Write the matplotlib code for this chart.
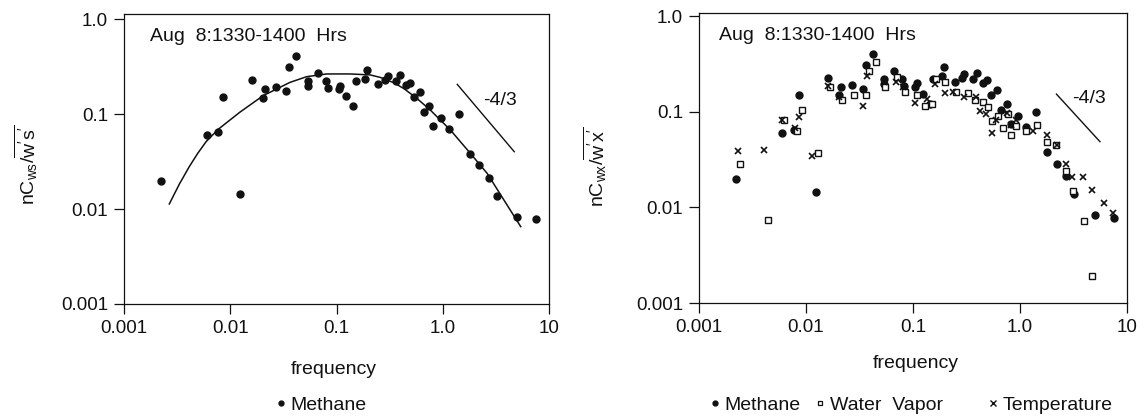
import matplotlib
matplotlib.use("Agg")
import matplotlib.pyplot as plt
from matplotlib.lines import Line2D

plt.rcParams['font.family'] = ['Liberation Sans', 'DejaVu Sans']
plt.rcParams['mathtext.fontset'] = 'custom'
plt.rcParams['mathtext.rm'] = 'Liberation Sans'
plt.rcParams['mathtext.it'] = 'Liberation Sans:italic'
plt.rcParams['mathtext.bf'] = 'Liberation Sans:bold'

# ---------------- data ----------------
methane_f = [0.00223, 0.00602, 0.0077, 0.00853, 0.0124, 0.0159, 0.0202, 0.0214, 0.0268,
             0.0338, 0.0361, 0.042, 0.0538, 0.0538, 0.0664, 0.0796, 0.0826, 0.105, 0.109,
             0.124, 0.144, 0.153, 0.186, 0.193, 0.245, 0.287, 0.302, 0.362, 0.395, 0.451,
             0.488, 0.540, 0.611, 0.671, 0.748, 0.817, 0.957, 1.15, 1.42, 1.79, 2.21, 2.70,
             3.21, 4.97, 7.51]
methane_c = [0.0197, 0.0601, 0.0652, 0.152, 0.0144, 0.226, 0.149, 0.183, 0.194,
             0.173, 0.313, 0.405, 0.224, 0.197, 0.268, 0.224, 0.186, 0.183, 0.199,
             0.155, 0.122, 0.222, 0.236, 0.293, 0.208, 0.228, 0.251, 0.224, 0.255, 0.202,
             0.214, 0.152, 0.171, 0.105, 0.122, 0.0741, 0.090, 0.0701, 0.1, 0.0379, 0.0288,
             0.0212, 0.0138, 0.0083, 0.00785]

# fitted curve, points
fit_f = [0.00267, 0.00332, 0.00413, 0.00494, 0.00593, 0.0077, 0.01225, 0.0204, 0.0364,
         0.0523, 0.0807, 0.134, 0.207, 0.258, 0.344, 0.428, 0.571, 0.764, 1.18, 1.82,
         2.62, 3.77, 5.42]
fit_c = [0.0113, 0.0183, 0.0281, 0.0385, 0.0512, 0.069, 0.104, 0.156, 0.215,
         0.247, 0.264, 0.264, 0.258, 0.243, 0.214, 0.186, 0.146, 0.110, 0.0679, 0.0385,
         0.0237, 0.0124, 0.00652]

water_f = [0.00241, 0.00441, 0.00627, 0.0083, 0.00918, 0.0129, 0.0168, 0.0216, 0.0280, 0.036,
           0.0387, 0.0447, 0.0553, 0.0706, 0.0834, 0.109, 0.129, 0.149, 0.165, 0.199, 0.251,
           0.327, 0.378, 0.452, 0.504, 0.552, 0.624, 0.695, 0.774, 0.832, 0.927, 1.15, 1.45,
           1.77, 2.17, 2.69, 3.10, 3.96, 4.74]
water_c = [0.0283, 0.0074, 0.0824, 0.0632, 0.105, 0.0369, 0.184, 0.132, 0.151, 0.151,
           0.271, 0.337, 0.184, 0.234, 0.163, 0.151, 0.116, 0.121, 0.220, 0.208, 0.163,
           0.157, 0.132, 0.128, 0.114, 0.0805, 0.0908, 0.0674, 0.0953, 0.0574, 0.0713, 0.0638,
           0.0725, 0.0489, 0.0451, 0.0243, 0.0149, 0.00728, 0.00192]

temp_f = [0.00229, 0.00401, 0.00596, 0.00789, 0.00854, 0.0115, 0.016, 0.0205, 0.034, 0.037,
          0.0535, 0.0687, 0.0805, 0.104, 0.135, 0.159, 0.199, 0.237, 0.298, 0.392, 0.427,
          0.485, 0.552, 0.603, 0.748, 0.832, 0.927, 1.33, 1.77, 2.20, 2.69, 3.03, 3.85,
          4.74, 6.14, 7.46]
temp_c = [0.0394, 0.040, 0.0824, 0.0674, 0.0879, 0.0349, 0.189, 0.143, 0.116, 0.238,
          0.208, 0.208, 0.184, 0.125, 0.136, 0.196, 0.157, 0.163, 0.143, 0.145, 0.103,
          0.0953, 0.0608, 0.0824, 0.0984, 0.0731, 0.0824, 0.0638, 0.0574, 0.0451, 0.0285,
          0.0210, 0.0207, 0.0152, 0.0112, 0.00883]

# -4/3 reference slope segments
slopeL_f = [1.37, 4.71]
slopeL_c = [0.205, 0.0401]
slopeR_f = [2.19, 5.59]
slopeR_c = [0.154, 0.0489]
slope_text = "-4/3"
title_text = "Aug  8:1330-1400  Hrs"

x_ticks = [0.001, 0.01, 0.1, 1.0, 10]
x_ticklabels = ["0.001", "0.01", "0.1", "1.0", "10"]
y_ticks = [0.001, 0.01, 0.1, 1.0]
y_ticklabels = ["0.001", "0.01", "0.1", "1.0"]

# ---------------- figure ----------------
W, H = 1146, 416
fig = plt.figure(figsize=(W / 100, H / 100), dpi=100)
axL = fig.add_axes([124 / W, 1 - 304 / H, 425 / W, 290 / H])
axR = fig.add_axes([699 / W, 1 - 303 / H, 428 / W, 290 / H])

ink = '#111111'

for ax, ytop in ((axL, 1.129), (axR, 1.088)):
    ax.set_xscale('log')
    ax.set_yscale('log')
    ax.set_xlim(0.001, 10)
    ax.set_ylim(0.001, ytop)
    ax.set_xticks(x_ticks)
    ax.set_xticklabels(x_ticklabels)
    ax.set_yticks(y_ticks)
    ax.set_yticklabels(y_ticklabels)
    ax.minorticks_off()
    ax.tick_params(direction='out', length=7, width=0.9, pad=4.5,
                   labelsize=13.5, colors=ink)
    for s in ax.spines.values():
        s.set_linewidth(0.9)
        s.set_color(ink)
    ax.text(0.06 if ax is axL else 0.047, 0.924, title_text, transform=ax.transAxes,
            ha='left', va='center', fontsize=14, color=ink)

# Left panel
axL.plot(methane_f, methane_c, 'o', ms=5, color=ink, mec=ink, zorder=3)
axL.plot(fit_f, fit_c, '-', lw=1.1, color=ink, solid_joinstyle='round')
axL.plot(slopeL_f, slopeL_c, '-', lw=1.0, color=ink)
axL.text(3.46, 0.140, slope_text, ha='center', va='center', fontsize=14, color=ink)

# Right panel
axR.plot(methane_f, methane_c, 'o', ms=5, color=ink, mec=ink, zorder=3)
axR.plot(water_f, water_c, 's', ms=4.3, mfc='white', mec=ink, mew=1.0, zorder=4)
axR.plot(temp_f, temp_c, 'x', ms=4.8, mec=ink, mew=1.2, zorder=5)
axR.plot(slopeR_f, slopeR_c, '-', lw=1.0, color=ink)
axR.text(4.41, 0.137, slope_text, ha='center', va='center', fontsize=14, color=ink)

# axis labels
axL.set_xlabel("frequency", fontsize=14, color=ink)
axL.xaxis.set_label_coords(0.494, -0.195)
axR.set_xlabel("frequency", fontsize=14, color=ink)
axR.xaxis.set_label_coords(0.507, -0.18)

fig.text(26 / W, 1 - 165 / H, r"$\mathregular{nC_{ws}/\overline{w's'}}$",
         rotation=90, ha='center', va='center', fontsize=14, color=ink)
fig.text(595 / W, 1 - 167 / H, r"$\mathregular{nC_{wx}/\overline{w'x'}}$",
         rotation=90, ha='center', va='center', fontsize=14, color=ink)

# legends
h_meth = Line2D([], [], ls='none', marker='o', ms=3.5, color=ink)
h_wat = Line2D([], [], ls='none', marker='s', ms=3.5, mfc='white', mec=ink, mew=0.9)
h_tmp = Line2D([], [], ls='none', marker='x', ms=4, mec=ink, mew=1.0)

def add_leg(handle, label, x0):
    fig.legend(handles=[handle], labels=[label], loc='center left',
               bbox_to_anchor=(x0 / W, 1 - 405 / H), frameon=False,
               handlelength=0.6, handletextpad=0.2, borderpad=0, borderaxespad=0,
               fontsize=14, labelcolor=ink)

add_leg(h_meth, "Methane", 275)
add_leg(h_meth, "Methane", 709)
add_leg(h_wat, "Water  Vapor", 814)
add_leg(h_tmp, "Temperature", 987)

fig.savefig("out.png", dpi=100)
